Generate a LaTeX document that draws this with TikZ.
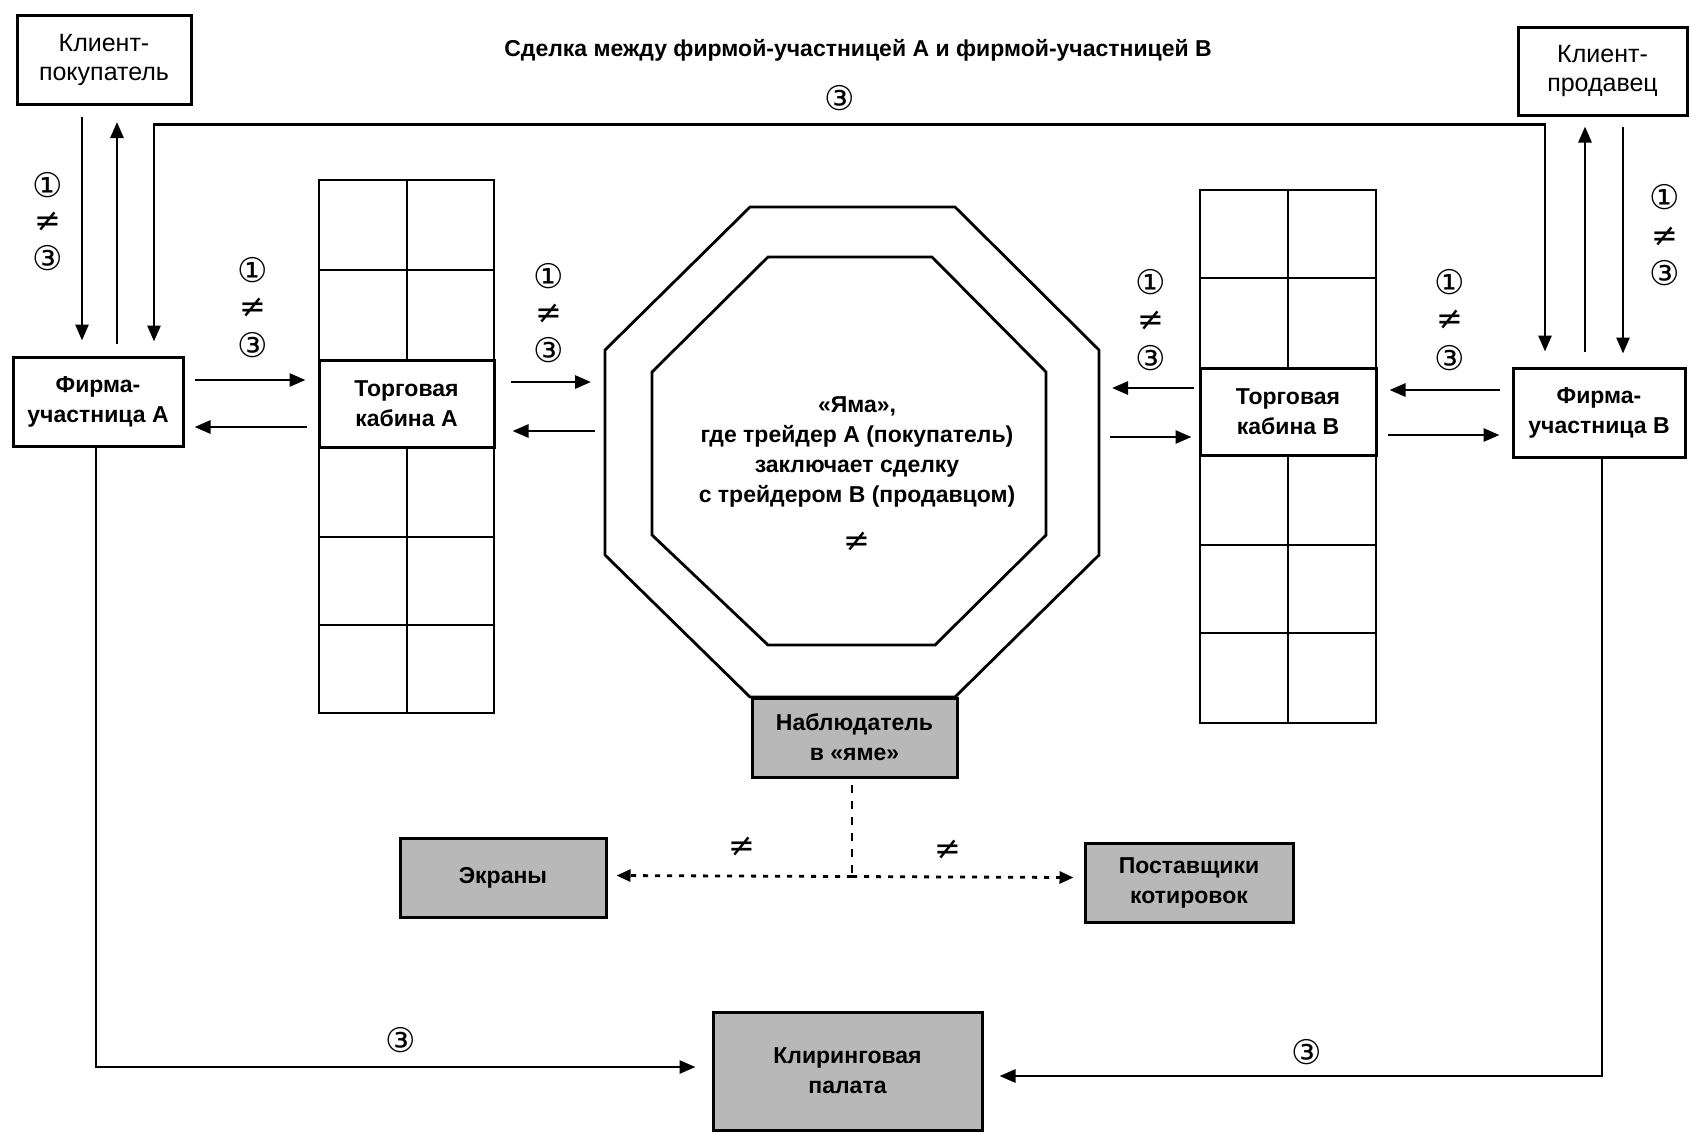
\documentclass[tikz,border=0pt]{standalone}
\usepackage{fontspec}
\setmainfont{Liberation Sans}
\newfontfamily\symf{DejaVu Sans}
\usetikzlibrary{arrows.meta,calc}
\begin{document}
\begin{tikzpicture}[x=0.5pt,y=-0.5pt,
  box/.style={draw,line width=1.5pt,align=center,inner sep=0pt,fill=white,font=\fontsize{12.5}{14.5}\selectfont},
  bbox/.style={box,font=\fontsize{11.5}{15}\selectfont\bfseries},
  gbox/.style={bbox,fill=black!28},
  conn/.style={line width=1.4pt},
  arr/.style={conn,-{Triangle[length=8pt,width=6.5pt]}},
  dbl/.style={conn,{Triangle[length=8pt,width=6.5pt]}-{Triangle[length=8pt,width=6.5pt]}},
  dotarr/.style={line width=1.4pt,dash pattern=on 2.5pt off 3.5pt,-{Triangle[length=7pt,width=6pt]}},
  lbl/.style={font=\symf\fontsize{17}{17}\selectfont,inner sep=0pt},
  nelbl/.style={font=\symf\fontsize{16}{16}\selectfont,inner sep=0pt},
  gridline/.style={line width=1.4pt},
  octline/.style={line width=1.4pt},
]
\useasboundingbox (0,0) rectangle (1690,1132);
\fill[white] (0,0) rectangle (1690,1132);

% title
\node[font=\fontsize{11.5}{13}\selectfont\bfseries] (title) at (858,50) {Сделка между фирмой-участницей А и фирмой-участницей В};
\node[lbl] (t3) at (840,98) {③};

% booth grids
\draw[gridline] (319,180) rectangle (494,713);
\draw[gridline] (407,180) -- (407,360) (407,447) -- (407,713);
\draw[gridline] (319,270) -- (494,270) (319,537) -- (494,537) (319,625) -- (494,625);
\draw[gridline] (1200,190) rectangle (1376,723);
\draw[gridline] (1288,190) -- (1288,368) (1288,455) -- (1288,723);
\draw[gridline] (1200,278) -- (1376,278) (1200,545) -- (1376,545) (1200,633) -- (1376,633);

% octagons (the pit)
\draw[octline] (750,207) -- (955,207) -- (1099,350) -- (1099,555) -- (955,697) -- (750,697) -- (605,555) -- (605,350) -- cycle;
\draw[octline] (768,257) -- (932,257) -- (1046,372) -- (1046,535) -- (935,645) -- (768,645) -- (652,535) -- (652,372) -- cycle;
\coordinate (pitW) at (605,452);
\coordinate (pitE) at (1099,452);
\node[align=center,font=\fontsize{11.5}{15}\selectfont\bfseries] (pit) at (857,452) {«Яма»,\\где трейдер А (покупатель)\\заключает сделку\\с трейдером В (продавцом)};
\node[nelbl] (pitne) at (857,542) {≠};

% boxes
\node[box,minimum width=87pt,minimum height=44.5pt] (cbuy) at (104,60) {Клиент-\\покупатель};
\node[box,minimum width=84.5pt,minimum height=44pt] (csell) at (1602.5,71) {Клиент-\\продавец};
\node[bbox,minimum width=85pt,minimum height=44.5pt] (firmA) at (98,401.5) {Фирма-\\участница А};
\node[bbox,minimum width=86pt,minimum height=44.5pt] (firmB) at (1599,412.5) {Фирма-\\участница В};
\node[bbox,minimum width=87.5pt,minimum height=43.5pt] (boothA) at (406.5,403.5) {Торговая\\кабина А};
\node[bbox,minimum width=88pt,minimum height=43.5pt] (boothB) at (1288,411.5) {Торговая\\кабина В};
\node[gbox,minimum width=102.5pt,minimum height=39.5pt] (observer) at (854.5,737.5) {Наблюдатель\\в «яме»};
\node[gbox,minimum width=103pt,minimum height=39.5pt] (screens) at (503,877.5) {Экраны};
\node[gbox,minimum width=104pt,minimum height=39.5pt] (quotes) at (1189,882.5) {Поставщики\\котировок};
\node[gbox,minimum width=134.5pt,minimum height=59pt] (clearing) at (847.5,1071) {Клиринговая\\палата};

% client <-> firm A
\draw[arr] ($(cbuy.south)+(-22,11)$) -- ($(firmA.north)+(-16,-15)$);
\draw[arr] ($(firmA.north)+(19,-12)$) -- ($(cbuy.south)+(13,16)$);
% long ③ line
\draw[dbl] ($(firmA.north)+(56,-14)$) |- ($(firmB.north)+(-54,-242)$) -- ($(firmB.north)+(-54,-15)$);
% firm B <-> client
\draw[arr] ($(firmB.north)+(-14,-15)$) -- ($(csell.south)+(-17.5,10)$);
\draw[arr] ($(csell.south)+(20.5,10)$) -- ($(firmB.north)+(24,-13)$);
% firm A <-> booth A
\draw[arr] ($(firmA.east)+(10,-21.5)$) -- ($(boothA.west)+(-12,-23.5)$);
\draw[arr] ($(boothA.west)+(-11,23.5)$) -- ($(firmA.east)+(10,25.5)$);
% booth A <-> pit
\draw[arr] ($(boothA.east)+(15,-21.5)$) -- ($(pitW)+(-14,-70)$);
\draw[arr] ($(pitW)+(-10,-21)$) -- ($(boothA.east)+(17,27.5)$);
% booth B <-> pit
\draw[arr] ($(boothB.west)+(-5,-23.5)$) -- ($(pitE)+(13,-64)$);
\draw[arr] ($(pitE)+(11,-15)$) -- ($(boothB.west)+(-7,25.5)$);
% firm B <-> booth B
\draw[arr] ($(firmB.west)+(-12,-22.5)$) -- ($(boothB.east)+(12,-21.5)$);
\draw[arr] ($(boothB.east)+(10,23.5)$) -- ($(firmB.west)+(-12,22.5)$);
% to clearing
\draw[arr] ($(firmA.south)+(-2,0)$) |- ($(clearing.west)+(-16,-4)$);
\draw[arr] ($(firmB.south)+(3,0)$) |- ($(clearing.east)+(16,5)$);
% observer dotted
\coordinate (junc) at ($(observer.south)+(-2.5,98)$);
\draw[line width=1.4pt,dash pattern=on 4pt off 4pt] ($(observer.south)+(-2.5,6)$) -- (junc);
\draw[dotarr] (junc) -- ($(screens.east)+(9,-2)$);
\draw[dotarr] (junc) -- ($(quotes.west)+(-10,-5)$);

% labels
\node[lbl] (a1) at (48,185) {①};
\node[nelbl] (a2) at (48,222) {≠};
\node[lbl] (a3) at (48,258) {③};
\node[lbl] (b1) at (253,270) {①};
\node[nelbl] (b2) at (253,308) {≠};
\node[lbl] (b3) at (253,345) {③};
\node[lbl] (c1) at (549,276) {①};
\node[nelbl] (c2) at (549,314) {≠};
\node[lbl] (c3) at (549,350) {③};
\node[lbl] (d1) at (1151,282) {①};
\node[nelbl] (d2) at (1151,321) {≠};
\node[lbl] (d3) at (1151,358) {③};
\node[lbl] (e1) at (1450,282) {①};
\node[nelbl] (e2) at (1450,320) {≠};
\node[lbl] (e3) at (1450,358) {③};
\node[lbl] (f1) at (1665,197) {①};
\node[nelbl] (f2) at (1665,237) {≠};
\node[lbl] (f3) at (1665,273) {③};
\node[nelbl] (g1) at (742,847) {≠};
\node[nelbl] (g2) at (948,850) {≠};
\node[lbl] (h1) at (401,1040) {③};
\node[lbl] (h2) at (1307,1052) {③};
\end{tikzpicture}
\end{document}
